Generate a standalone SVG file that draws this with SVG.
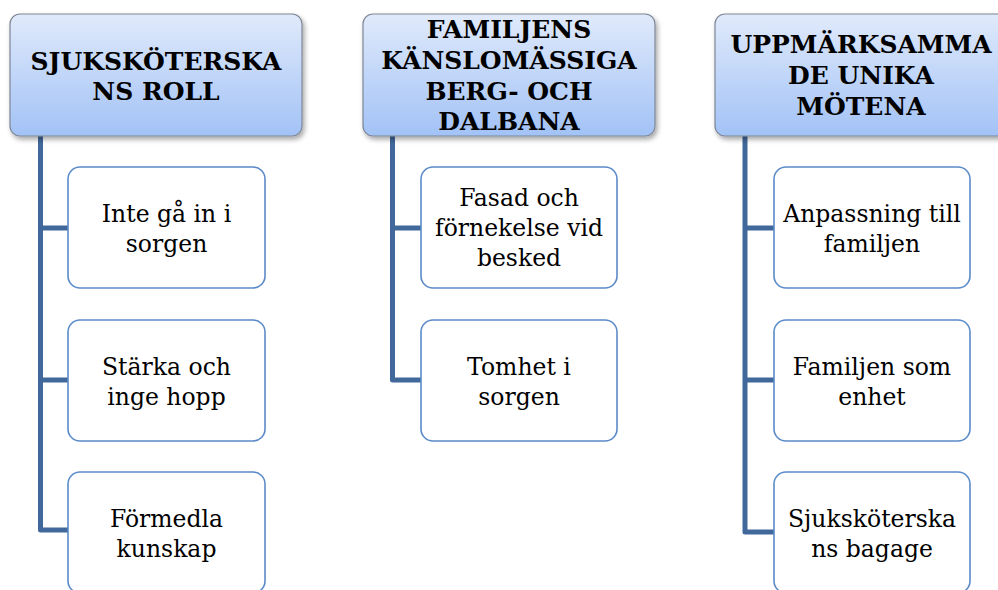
<svg xmlns="http://www.w3.org/2000/svg" width="998" height="590" viewBox="0 0 998 590">
<defs>
<linearGradient id="hg" x1="0" y1="0" x2="0" y2="1">
<stop offset="0" stop-color="#e0eafb"/>
<stop offset="1" stop-color="#a2c2f6"/>
</linearGradient>
<filter id="sh" x="-10%" y="-10%" width="125%" height="130%">
<feDropShadow dx="2" dy="3" stdDeviation="2.5" flood-color="#000" flood-opacity="0.35"/>
</filter>
</defs>
<style>
.hdr{fill:url(#hg);stroke:#7d8796;stroke-width:1.2;filter:url(#sh)}
.box{fill:#fff;stroke:#5b8bc8;stroke-width:1.6}
.con{fill:none;stroke:#41689b;stroke-width:5;stroke-linejoin:round}
</style>
<g id="connectors">
<path class="con" d="M40.5 136 V530 H68 M40.5 228 H68 M40.5 380 H68"/>
<path class="con" d="M392.5 136 V380 H421 M392.5 228 H421"/>
<path class="con" d="M745 136 V532 H774 M745 228 H774 M745 380 H774"/>
</g>
<g font-family="DejaVu Serif, Liberation Serif, serif" font-weight="bold" font-size="25" text-anchor="middle" fill="#000">
<g id="h1">
<rect class="hdr" x="10" y="14" width="292" height="122" rx="10"/>
<text x="156" y="70">SJUKSKÖTERSKA</text>
<text x="156" y="100">NS ROLL</text>
</g>
<g id="h2">
<rect class="hdr" x="363" y="14" width="292" height="122" rx="10"/>
<text x="509" y="38">FAMILJENS</text>
<text x="509" y="68.5">KÄNSLOMÄSSIGA</text>
<text x="509" y="99.5">BERG- OCH</text>
<text x="509" y="130">DALBANA</text>
</g>
<g id="h3">
<rect class="hdr" x="715" y="14" width="292" height="122" rx="10"/>
<text x="861" y="53">UPPMÄRKSAMMA</text>
<text x="861" y="84">DE UNIKA</text>
<text x="861" y="115">MÖTENA</text>
</g>
</g>
<g font-family="DejaVu Serif, Liberation Serif, serif" font-size="23.5" text-anchor="middle" fill="#000">
<g id="c1a">
<rect class="box" x="68" y="167" width="197" height="121" rx="12"/>
<text x="166.5" y="222">Inte gå in i</text>
<text x="166.5" y="252">sorgen</text>
</g>
<g id="c1b">
<rect class="box" x="68" y="320" width="197" height="121" rx="12"/>
<text x="166.5" y="375">Stärka och</text>
<text x="166.5" y="405">inge hopp</text>
</g>
<g id="c1c">
<rect class="box" x="68" y="472" width="197" height="121" rx="12"/>
<text x="166.5" y="527">Förmedla</text>
<text x="166.5" y="557">kunskap</text>
</g>
<g id="c2a">
<rect class="box" x="421" y="167" width="196" height="121" rx="12"/>
<text x="519" y="206">Fasad och</text>
<text x="519" y="236">förnekelse vid</text>
<text x="519" y="266">besked</text>
</g>
<g id="c2b">
<rect class="box" x="421" y="320" width="196" height="121" rx="12"/>
<text x="519" y="375">Tomhet i</text>
<text x="519" y="405">sorgen</text>
</g>
<g id="c3a">
<rect class="box" x="774" y="167" width="196" height="121" rx="12"/>
<text x="872" y="222">Anpassning till</text>
<text x="872" y="252">familjen</text>
</g>
<g id="c3b">
<rect class="box" x="774" y="320" width="196" height="121" rx="12"/>
<text x="872" y="375">Familjen som</text>
<text x="872" y="405">enhet</text>
</g>
<g id="c3c">
<rect class="box" x="774" y="472" width="196" height="121" rx="12"/>
<text x="872" y="527">Sjuksköterska</text>
<text x="872" y="557">ns bagage</text>
</g>
</g>
</svg>
